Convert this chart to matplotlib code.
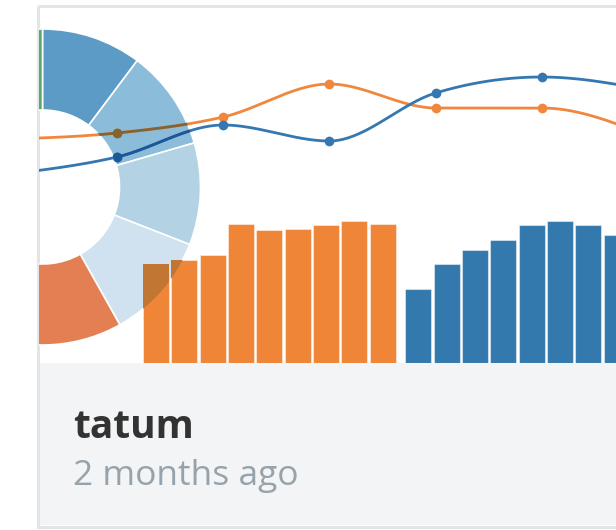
import numpy as np
import matplotlib
matplotlib.use("Agg")
import matplotlib.pyplot as plt
from matplotlib.colors import to_rgb
from matplotlib.patches import Rectangle

# card thumbnail: donut + bars + smooth lines, multiply-blended like the original

#################
# data
donut_share = [36.9, 37.0, 37.6, 39.4, 45.0, 55.0, 55.0, 51.1, 3.5]   # degrees, clockwise from top
donut_colors = ["#5b9bc6", "#8bbcd9", "#b3d3e5", "#d0e2ef", "#e37f52",
                "#f2b48a", "#c9c9c9", "#9fcf9a", "#58a868"]

orange_bars = [99, 103, 108, 139, 133, 134, 138, 142, 139]
blue_bars = [74, 99, 113, 123, 138, 142, 138, 128]

orange_line = [224, 230, 246, 279, 255, 255, 227]
blue_line = [189, 206, 238, 222, 270, 286, 273]

card_title = "tatum"
card_time = "2 months ago"

c_orange_bar = "#ee8537"
c_blue_bar = "#3479ad"
c_orange_line = "#f0873d"
c_blue_line = "#3477b1"
#################

W, H = 616, 530
fig = plt.figure(figsize=(W / 100, H / 100), dpi=100)


def px_rect(x0, y0, x1, y1):
    # pixel box (top-left origin) -> figure fraction
    return [x0 / W, (H - y1) / H, (x1 - x0) / W, (y1 - y0) / H]


def multiply(c1, c2):
    return tuple(a * b for a, b in zip(to_rgb(c1), to_rgb(c2)))


def monotone(y, n=40):
    # d3 curveMonotoneX on unit spaced points
    y = np.asarray(y, float)
    s = np.diff(y)
    t = np.zeros(len(y))
    for i in range(1, len(y) - 1):
        s0, s1 = s[i - 1], s[i]
        p = (s0 + s1) / 2
        t[i] = (np.sign(s0) + np.sign(s1)) * min(abs(s0), abs(s1), 0.5 * abs(p))
    t[0] = (3 * s[0] - t[1]) / 2
    t[-1] = (3 * s[-1] - t[-2]) / 2
    xs, ys = [], []
    u = np.linspace(0, 1, n)
    for i in range(len(y) - 1):
        h00 = 2 * u**3 - 3 * u**2 + 1
        h10 = u**3 - 2 * u**2 + u
        h01 = -2 * u**3 + 3 * u**2
        h11 = u**3 - u**2
        xs.append(i + u)
        ys.append(h00 * y[i] + h10 * t[i] + h01 * y[i + 1] + h11 * t[i + 1])
    return np.concatenate(xs), np.concatenate(ys)


# background / card frame
ax_bg = fig.add_axes([0, 0, 1, 1])
ax_bg.set_xlim(0, W)
ax_bg.set_ylim(H, 0)
ax_bg.axis("off")
ax_bg.add_patch(Rectangle((39, 363), 700, 162, facecolor="#f3f4f6", edgecolor="none"))
ax_bg.add_patch(Rectangle((37.5, 5.5), 700, 521, facecolor="none",
                          edgecolor="#e3e5e7", linewidth=2.2))
ax_bg.text(73, 438, card_title, fontfamily="Open Sans", fontweight="bold",
           fontsize=28, color="#333333", va="baseline", ha="left")
ax_bg.text(73, 485, card_time, fontfamily="Open Sans", fontsize=25.5,
           color="#97a3ab", va="baseline", ha="left")

area = px_rect(39, 7, 616, 363)

# donut
ax_d = fig.add_axes(area)
cx, cy, R, r = 42.5, 187, 158, 77
wedges, _ = ax_d.pie(donut_share, colors=donut_colors, startangle=90,
                     counterclock=False, radius=1,
                     wedgeprops=dict(width=1 - r / R, edgecolor="white", linewidth=1.2))
ax_d.set_aspect("auto")
ax_d.set_xlim((39 - cx) / R, (616 - cx) / R)
ax_d.set_ylim((cy - 363) / R, (cy - 7) / R)
ax_d.axis("off")
for w in wedges:
    w.set_clip_on(True)
    w.set_clip_path(ax_d.patch)

# bars
ax_b = fig.add_axes(area)
pitch = 28.35
ax_b.set_xlim((39 - 156) / pitch, (616 - 156) / pitch)
ax_b.set_ylim(0, 356)
ax_b.axis("off")
xo = np.arange(len(orange_bars))
xb = np.arange(len(blue_bars)) + len(orange_bars) + 0.25
bw = 26 / pitch
edge = (1, 1, 1, 0.45)
ax_b.bar(xo, orange_bars, width=bw, color=c_orange_bar, edgecolor=edge, linewidth=0.8)
ax_b.bar(xb, blue_bars, width=bw, color=c_blue_bar, edgecolor=edge, linewidth=0.8)

# lines
ax_l = fig.add_axes(area)
step = 106.2
ax_l.set_xlim((39 - 10.8) / step, (616 - 10.8) / step)
ax_l.set_ylim(0, 356)
ax_l.axis("off")


def draw_lines(c_o, c_b, clip=None):
    arts = []
    for vals, c in [(orange_line, c_o), (blue_line, c_b)]:
        sx, sy = monotone(vals)
        arts += ax_l.plot(sx, sy, color=c, lw=2.0, solid_capstyle="round")
        arts += ax_l.plot(np.arange(len(vals)), vals, "o", color=c, ms=7, mec="none")
    if clip is not None:
        for a in arts:
            a.set_clip_path(clip)


draw_lines(c_orange_line, c_blue_line)

# multiply-blend where donut lies under bars and lines
for w, wc in zip(wedges, donut_colors):
    bo = ax_b.bar(xo, orange_bars, width=bw, color=multiply(c_orange_bar, wc),
                  edgecolor="none", linewidth=0)
    bb = ax_b.bar(xb, blue_bars, width=bw, color=multiply(c_blue_bar, wc),
                  edgecolor="none", linewidth=0)
    for p in list(bo) + list(bb):
        p.set_clip_path(w)
    draw_lines(multiply(c_orange_line, wc), multiply(c_blue_line, wc), clip=w)

fig.savefig("out.png", dpi=100)
